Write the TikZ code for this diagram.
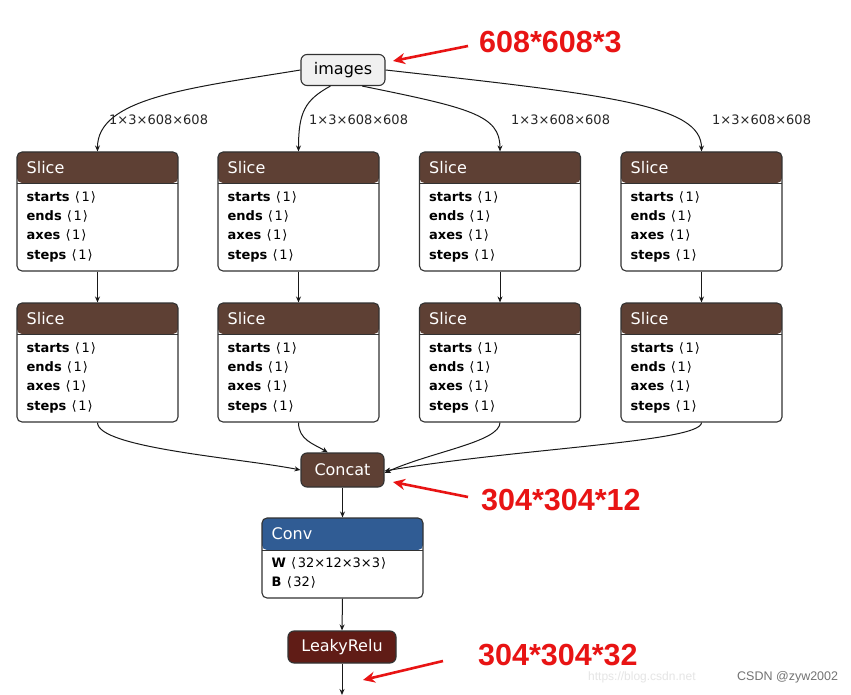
\documentclass[tikz,border=0pt]{standalone}
\usepackage{fontspec}
\setmainfont{DejaVu Sans}
\newfontfamily\djv{DejaVu Sans}
\newfontfamily\redfont{Liberation Sans}
\usetikzlibrary{arrows.meta}
\definecolor{slicebrown}{RGB}{94,64,52}
\definecolor{convblue}{RGB}{48,92,148}
\definecolor{leakyred}{RGB}{96,28,22}
\definecolor{edgecol}{RGB}{25,25,25}
\definecolor{annred}{RGB}{232,20,20}
\definecolor{bordercol}{RGB}{50,50,50}
\newcommand{\lab}[2]{\textbf{#1}\hspace{0.4em}{\djv\char"27E8}\hspace{0.12em}#2\hspace{0.08em}{\djv\char"27E9}}
\tikzset{
  opbox/.style={draw=bordercol, line width=1.1pt, rounded corners=5pt, fill=white,
    minimum width=161pt, minimum height=#1, inner sep=0pt},
  hdr/.style 2 args={path picture={\fill[#1] (path picture bounding box.north west) rectangle ([yshift=-#2]path picture bounding box.north east);
     \draw[bordercol, line width=0.6pt] ([yshift=-#2]path picture bounding box.north west) -- ([yshift=-#2]path picture bounding box.north east);}},
  hdrtext/.style={anchor=west, text=white, font=\fontsize{16}{18}\selectfont, inner sep=0pt},
  attr/.style={anchor=west, font=\fontsize{13}{15}\selectfont, inner sep=0pt, text=black},
  pill/.style={draw=bordercol, line width=1.1pt, rounded corners=6pt, inner sep=0pt, font=\fontsize{16}{18}\selectfont},
  edge/.style={draw=edgecol, line width=1pt, -{Stealth[length=6pt,width=5pt]}},
  elab/.style={anchor=west, font=\fontsize{13}{15}\selectfont, inner sep=0pt, text=black!85},
  ann/.style={font=\redfont\bfseries\fontsize{30.5}{33}\selectfont, text=annred, inner sep=0pt},
  annarrow/.style={draw=annred, line width=2.6pt, -{Stealth[length=12pt,width=11pt]}}
}
\begin{document}
\begin{tikzpicture}[x=1pt,y=-1pt]
\fill[white] (0,0) rectangle (851,695);
\useasboundingbox (0,0) rectangle (851,695);

% input
\node[pill, fill=black!6, minimum width=84pt, minimum height=31pt] (img) at (343,70) {images};

% slices
\foreach \n/\cx in {a/97.5, b/298.5, c/500, d/701.5}{
  \foreach \r/\cy in {1/211.5, 2/362.5}{
    \node[opbox=119pt, hdr={slicebrown}{31pt}] (s\r\n) at (\cx,\cy) {};
    \node[hdrtext] at ([xshift=10pt,yshift=-16pt]s\r\n.north west) {Slice};
    \node[attr] at ([xshift=10pt,yshift=-46pt]s\r\n.north west) {\lab{starts}{1}};
    \node[attr] at ([xshift=10pt,yshift=-65pt]s\r\n.north west) {\lab{ends}{1}};
    \node[attr] at ([xshift=10pt,yshift=-84pt]s\r\n.north west) {\lab{axes}{1}};
    \node[attr] at ([xshift=10pt,yshift=-104pt]s\r\n.north west) {\lab{steps}{1}};
  }
  \draw[edge] (s1\n.south) -- (s2\n.north);
}

% edges from images
\draw[edge] (img.west) .. controls (190,88) and (97,98) .. (s1a.north);
\draw[edge] (img.-128) .. controls (305,100) and (298.5,112) .. (s1b.north);
\draw[edge] (img.-40) .. controls (470,108) and (500,115) .. (s1c.north);
\draw[edge] (img.east) .. controls (610,95) and (701.5,105) .. (s1d.north);
\node[elab] (l1) at (109,120) {1×3×608×608};
\node[elab] (l2) at (309,120) {1×3×608×608};
\node[elab] (l3) at (511,120) {1×3×608×608};
\node[elab] (l4) at (712,120) {1×3×608×608};

% concat
\node[pill, fill=slicebrown, text=white, minimum width=83pt, minimum height=34pt] (cat) at (342.5,470) {Concat};
\draw[edge] (s2a.south) .. controls (97.5,448) and (240,458) .. (cat.west);
\draw[edge] (s2b.south) .. controls (298.5,440) and (314,444) .. (cat.130);
\draw[edge] (s2c.south) .. controls (500,442) and (430,452) .. ([yshift=-3pt]cat.east);
\draw[edge] (s2d.south) .. controls (701.5,442) and (520,448) .. ([yshift=-1pt]cat.east);

% conv
\node[opbox=80pt, hdr={convblue}{32pt}] (conv) at (342.5,558) {};
\node[hdrtext] at ([xshift=10pt,yshift=-16pt]conv.north west) {Conv};
\node[attr] at ([xshift=10pt,yshift=-46pt]conv.north west) {\lab{W}{32×12×3×3}};
\node[attr] at ([xshift=10pt,yshift=-65pt]conv.north west) {\lab{B}{32}};
\draw[edge] (cat.south) -- (conv.north);

% leaky relu
\node[pill, fill=leakyred, text=white, minimum width=108pt, minimum height=32pt] (lr) at (342,647) {LeakyRelu};
\draw[edge] (conv.south) -- (lr.north);
\coordinate (out) at (342,695);
\draw[edge] (lr.south) -- (out);

% annotations
\node[ann, anchor=west] (a1) at (479,42) {608*608*3};
\coordinate (a1t) at (393,61);
\draw[annarrow] (468,46) -- (a1t);
\node[ann, anchor=west] (a2) at (481,500) {304*304*12};
\coordinate (a2t) at (393,482);
\draw[annarrow] (468,497) -- (a2t);
\node[ann, anchor=west] (a3) at (478,655) {304*304*32};
\coordinate (a3t) at (363,680);
\draw[annarrow] (443,661) -- (a3t);

% watermark
\node[anchor=west, inner sep=0pt, font=\redfont\fontsize{12}{14}\selectfont, text=black!10] (wm1) at (588,677) {https://blog.csdn.net};
\node[anchor=west, inner sep=0pt, font=\redfont\fontsize{12.5}{14}\selectfont, text=black!55] (wm2) at (737,677) {CSDN @zyw2002};
\end{tikzpicture}
\end{document}
